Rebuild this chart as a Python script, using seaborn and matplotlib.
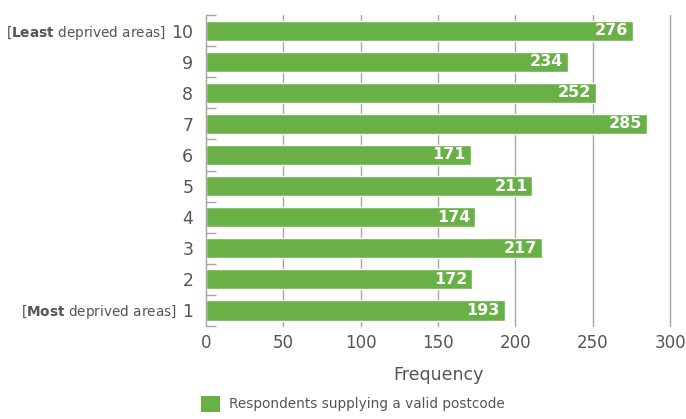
import matplotlib
matplotlib.use("Agg")
import matplotlib.pyplot as plt
import seaborn as sns
import pandas as pd
from matplotlib.patches import Patch

# Dados (de cima para baixo)
deciles = ["10", "9", "8", "7", "6", "5", "4", "3", "2", "1"]
frequency = [276, 234, 252, 285, 171, 211, 174, 217, 172, 193]
x_ticks = [0, 50, 100, 150, 200, 250, 300]
legend_label = "Respondents supplying a valid postcode"

bar_color = "#69B147"
text_gray = "#555555"
line_gray = "#a6a6a6"

df = pd.DataFrame({"decile": deciles, "frequency": frequency})

sns.set_style("white")
plt.rcParams["font.family"] = ["DejaVu Sans"]

fig = plt.figure(figsize=(6.86, 4.19), dpi=100)
ax = fig.add_axes([0.300, 0.222, 0.677, 0.742])

sns.barplot(data=df, y="decile", x="frequency", order=deciles, color=bar_color,
            saturation=1, width=0.65, ax=ax)

# rótulos dos valores dentro das barras
for p in ax.patches:
    w = p.get_width()
    ax.text(w - 3, p.get_y() + p.get_height() / 2, f"{int(w)}", ha="right", va="center",
            color="white", fontsize=11.5, fontweight="bold")

ax.set_xlim(0, 300)
ax.set_xticks(x_ticks)
ax.set_xticklabels([str(t) for t in x_ticks], fontsize=12, color=text_gray)
ax.set_ylim(len(deciles) - 0.5, -0.5)
ax.set_yticks(range(len(deciles)))
ax.set_yticklabels(deciles, fontsize=12.5, color=text_gray)
ax.tick_params(axis="x", length=0, pad=6)
ax.tick_params(axis="y", which="major", length=0, pad=9)
ax.set_xlabel("Frequency", fontsize=12.5, color=text_gray, labelpad=10)
ax.set_ylabel("")

# grade vertical
ax.grid(axis="x", color=line_gray, linewidth=1)
for gl in ax.get_xgridlines():
    gl.set_clip_on(False)
ax.set_axisbelow(True)
for s in ["top", "right", "bottom"]:
    ax.spines[s].set_visible(False)
ax.spines["left"].set_color(line_gray)

# marcas nas fronteiras das categorias
ax.set_yticks([i - 0.5 for i in range(len(deciles) + 1)], minor=True)
ax.tick_params(axis="y", which="minor", left=True, direction="in", length=7.5,
               width=1, color=line_gray)

# textos [Least ...] e [Most ...]
labels = ax.get_yticklabels()
ax.annotate(r"[$\mathbf{Least}$ deprived areas]", xy=(0, 0.5), xycoords=labels[0],
            xytext=(-4, 0), textcoords="offset points", ha="right", va="center",
            fontsize=9.8, color=text_gray, annotation_clip=False)
ax.annotate(r"[$\mathbf{Most}$ deprived areas]", xy=(0, 0.5), xycoords=labels[-1],
            xytext=(-4, 0), textcoords="offset points", ha="right", va="center",
            fontsize=9.8, color=text_gray, annotation_clip=False)

fig.legend(handles=[Patch(facecolor=bar_color, edgecolor="none")], labels=[legend_label],
           loc="lower left", bbox_to_anchor=(0.275, -0.012), frameon=False, fontsize=9.8,
           labelcolor=text_gray, handlelength=1.4, handleheight=1.4, handletextpad=0.7)

fig.savefig("out.png", dpi=100)
